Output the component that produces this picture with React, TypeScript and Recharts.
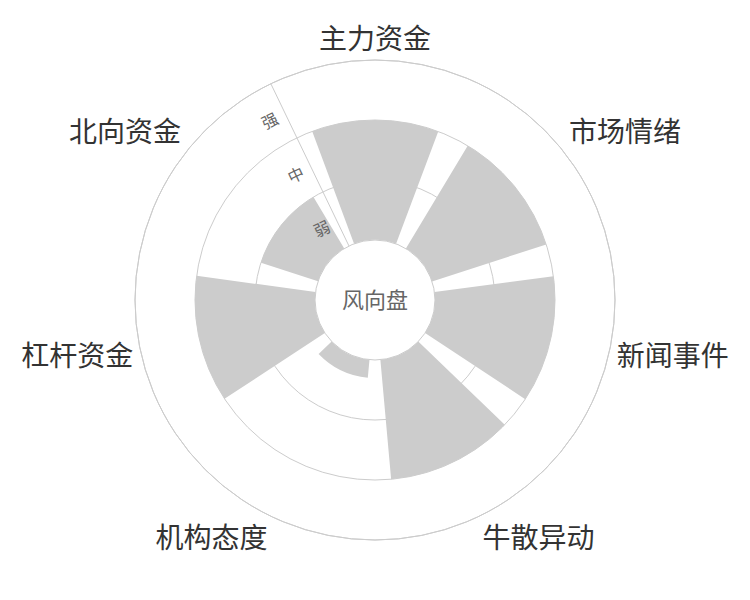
import React from 'react';
import { RadialBarChart, RadialBar, PolarAngleAxis, PolarRadiusAxis, PolarGrid } from 'recharts';

const categories = ['主力资金', '市场情绪', '新闻事件', '牛散异动', '机构态度', '杠杆资金', '北向资金'];
const strengths = [2, 2, 2, 2, 0.3, 2, 1];
const levelTicks = [0.5, 1.5, 2.5];
const levelLabels = ['弱', '中', '强'];
const gridTicks = [0, 1, 2, 3];
const centerTitle = '风向盘';

const data = categories.map((name, i) => ({ name, value: strengths[i] }));

const FONT = "'Noto Sans CJK SC', 'Noto Sans', sans-serif";
const BAND = 360 / categories.length;
const START = 90 - BAND / 2;
const AXIS_ANGLE = 90 + BAND / 2;
const RAD = Math.PI / 180;

function AngleTick(props: any) {
  const { payload, cx, cy, radius } = props;
  let x = props.x;
  let y = props.y;
  // Recharts puts band ticks on the band edge; labels sit on the band centre.
  const angle = payload.coordinate + BAND / 2;
  if (typeof cx === 'number' && typeof cy === 'number' && typeof radius === 'number') {
    const r = radius + 8;
    x = cx + r * Math.cos(-angle * RAD);
    y = cy + r * Math.sin(-angle * RAD);
  }
  const c = Math.cos(angle * RAD);
  const s = Math.sin(angle * RAD);
  const anchor = Math.abs(c) < 0.3 ? 'middle' : c > 0 ? 'start' : 'end';
  const fs = 28;
  const dy = Math.abs(s) < 0.3 ? 0.38 * fs : s > 0 ? -0.12 * fs : 0.88 * fs;
  return (
    <text x={x} y={y} dy={dy} textAnchor={anchor} fill="#333" fontSize={fs} fontFamily={FONT}>
      {payload.value}
    </text>
  );
}

function LevelTick(props: any) {
  const { x, y, payload, transform } = props;
  const idx = levelTicks.indexOf(payload.value);
  return (
    <text
      x={x}
      y={y}
      dx={-17}
      dy={2}
      transform={transform}
      textAnchor="middle"
      dominantBaseline="central"
      fill="#666"
      fontSize={16}
      fontFamily={FONT}
    >
      {idx >= 0 ? levelLabels[idx] : ''}
    </text>
  );
}

export default function App() {
  return (
    <div style={{ position: 'absolute', left: 0, top: 0, width: 750, height: 600, background: '#fff' }}>
      <RadialBarChart
        width={750}
        height={600}
        cx={375}
        cy={300}
        data={data}
        layout="centric"
        startAngle={START}
        endAngle={START - 360}
        innerRadius={60}
        outerRadius={240}
        margin={{ top: 0, right: 0, bottom: 0, left: 0 }}
      >
        <PolarGrid gridType="circle" radialLines={false} stroke="#ccc" />
        <PolarAngleAxis
          type="category"
          dataKey="name"
          axisLineType="circle"
          axisLine={{ stroke: '#ccc' }}
          tickLine={false}
          tick={AngleTick}
        />
        <PolarRadiusAxis
          type="number"
          domain={[0, 3]}
          ticks={gridTicks}
          tickCount={4}
          tick={false}
          axisLine={{ stroke: '#ccc' }}
          angle={AXIS_ANGLE}
          label={{ value: centerTitle, position: 'center', fill: '#666', fontSize: 22, fontFamily: FONT }}
        />
        <PolarRadiusAxis
          radiusAxisId="lbl"
          type="number"
          dataKey="value"
          domain={[0, 3]}
          allowDataOverflow
          ticks={levelTicks}
          angle={AXIS_ANGLE}
          axisLine={false}
          tick={LevelTick}
        />
        <RadialBar dataKey="value" fill="#ccc" isAnimationActive={false} />
      </RadialBarChart>
    </div>
  );
}
